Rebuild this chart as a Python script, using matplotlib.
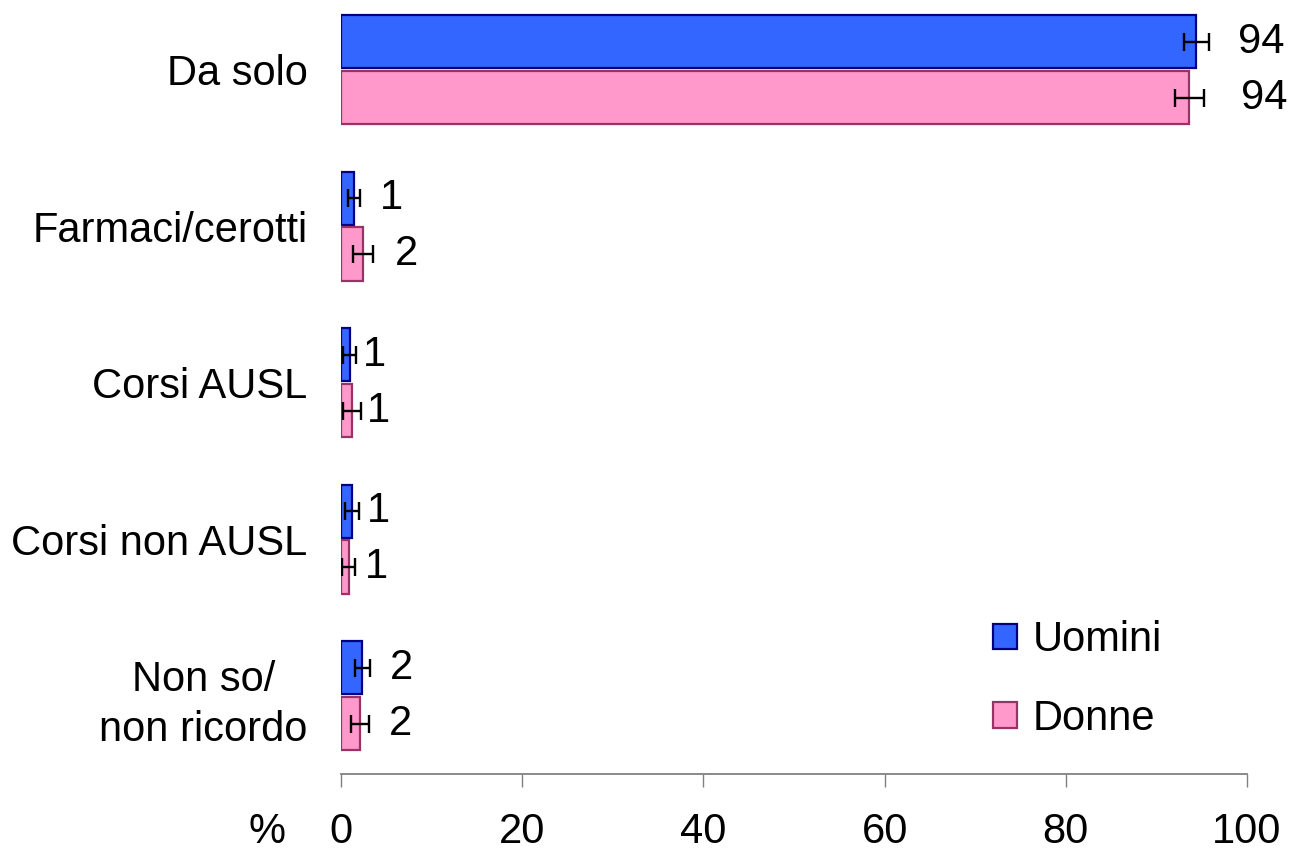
import matplotlib
matplotlib.use('Agg')
import matplotlib.pyplot as plt
import numpy as np
from matplotlib.patches import Patch

plt.rcParams['font.family'] = ['Liberation Sans', 'DejaVu Sans']

# dati
categorie = ['Da solo', 'Farmaci/cerotti', 'Corsi AUSL', 'Corsi non AUSL', 'Non so/\nnon ricordo']
uomini = [94.4, 1.45, 0.95, 1.2, 2.35]
donne = [93.6, 2.4, 1.2, 0.85, 2.1]
err_uomini = [1.4, 0.7, 0.75, 0.75, 0.85]
err_donne = [1.6, 1.1, 1.0, 0.75, 1.0]
etichette_uomini = ['94', '1', '1', '1', '2']
etichette_donne = ['94', '2', '1', '1', '2']

# distanza (pt) fra fine della barra d'errore e l'etichetta
pad_u = [21, 14, 5, 6, 14]
pad_d = [27, 16, 4, 7, 14]

col_u, bordo_u = '#3366FF', '#000080'
col_d, bordo_d = '#FF99CC', '#993366'

fig = plt.figure(figsize=(12.9, 8.51), dpi=100)
ax = fig.add_axes([341 / 1290, 77 / 851, 906 / 1290, 774 / 851])

y = np.arange(len(categorie))
h = 0.34
off = 0.178

ax.barh(y - off, uomini, height=h, color=col_u, edgecolor=bordo_u, linewidth=1.6)
ax.barh(y + off, donne, height=h, color=col_d, edgecolor=bordo_d, linewidth=1.6)
ax.errorbar(uomini, y - off, xerr=err_uomini, fmt='none', ecolor='black',
            elinewidth=1.7, capsize=6.5, capthick=1.7)
ax.errorbar(donne, y + off, xerr=err_donne, fmt='none', ecolor='black',
            elinewidth=1.7, capsize=6.5, capthick=1.7)

fs = 30
for i in range(len(categorie)):
    ax.annotate(etichette_uomini[i], (uomini[i] + err_uomini[i], y[i] - off),
                xytext=(pad_u[i], 0), textcoords='offset points', va='center', ha='left', fontsize=fs)
    ax.annotate(etichette_donne[i], (donne[i] + err_donne[i], y[i] + off),
                xytext=(pad_d[i], 0), textcoords='offset points', va='center', ha='left', fontsize=fs)

ax.set_xlim(0, 100)
ax.set_ylim(4.5, -0.445)
ax.set_xticks([0, 20, 40, 60, 80, 100])
ax.set_yticks(y)
ax.set_yticklabels(categorie, fontsize=fs, multialignment='center', linespacing=1.33)
ax.tick_params(axis='y', length=0, pad=24)
ax.tick_params(axis='x', labelsize=fs, length=9.5, width=1, color='#808080', pad=18)
for s in ['top', 'right', 'left']:
    ax.spines[s].set_visible(False)
ax.spines['bottom'].set_color('#808080')
ax.spines['bottom'].set_linewidth(1.3)

fig.text(267 / 1290, 1 - 832 / 851, '%', fontsize=fs, ha='center', va='center')

maniglie = [Patch(facecolor=col_u, edgecolor=bordo_u, linewidth=1.6, label='Uomini'),
            Patch(facecolor=col_d, edgecolor=bordo_d, linewidth=1.6, label='Donne')]
fig.legend(handles=maniglie, loc='upper left', bbox_to_anchor=(964 / 1290, 1 - 591 / 851),
           frameon=False, fontsize=fs, handlelength=0.575, handleheight=0.575,
           handletextpad=0.38, labelspacing=0.92, borderpad=0.2)

fig.savefig('out.png', dpi=100)
